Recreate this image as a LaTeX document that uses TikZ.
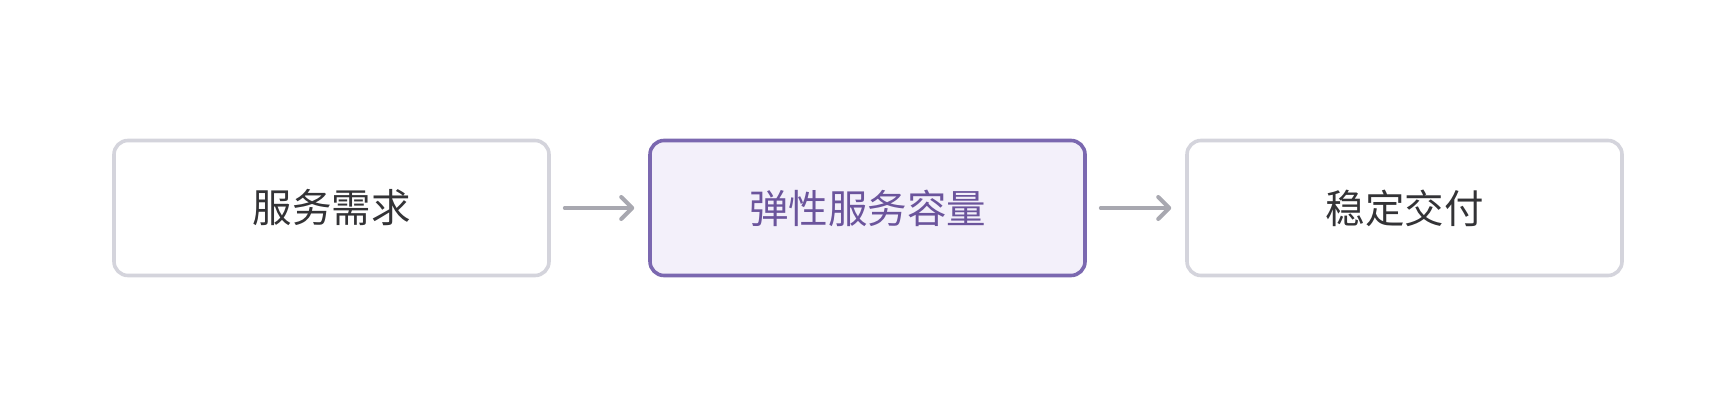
\documentclass[tikz,border=0pt]{standalone}
\usepackage{fontspec}
\newfontfamily\cjk{Noto Sans CJK SC}
\usetikzlibrary{arrows.meta}
\definecolor{greyline}{HTML}{D4D4DC}
\definecolor{arrowgrey}{HTML}{A8A8B0}
\definecolor{darktext}{HTML}{333336}
\definecolor{purpleline}{HTML}{7B68B0}
\definecolor{purplefill}{HTML}{F3F0FA}
\definecolor{purpletext}{HTML}{6B549C}
\tikzset{
  plainbox/.style={draw=greyline, fill=white, line width=3.6pt, rounded corners=14pt,
    minimum width=435pt, minimum height=135pt, inner sep=0pt,
    font=\cjk\fontsize{39.5}{42}\selectfont, text=darktext},
  focusbox/.style={plainbox, draw=purpleline, fill=purplefill, text=purpletext},
  flow/.style={draw=arrowgrey, line width=4pt, line cap=round,
    -{Straight Barb[length=11pt, width=22pt, line width=4pt, round]}}
}
\begin{document}
\begin{tikzpicture}[x=1pt,y=1pt]
\useasboundingbox (0,0) rectangle (1736,416);
\node[plainbox] (a) at (331.5,208) {服务需求};
\node[focusbox] (b) at (867.5,208) {弹性服务容量};
\node[plainbox] (c) at (1404.5,208) {稳定交付};
\draw[flow] ([xshift=14pt]a.east) -- ([xshift=-14pt]b.west);
\draw[flow] ([xshift=14pt]b.east) -- ([xshift=-14pt]c.west);
\end{tikzpicture}
\end{document}
